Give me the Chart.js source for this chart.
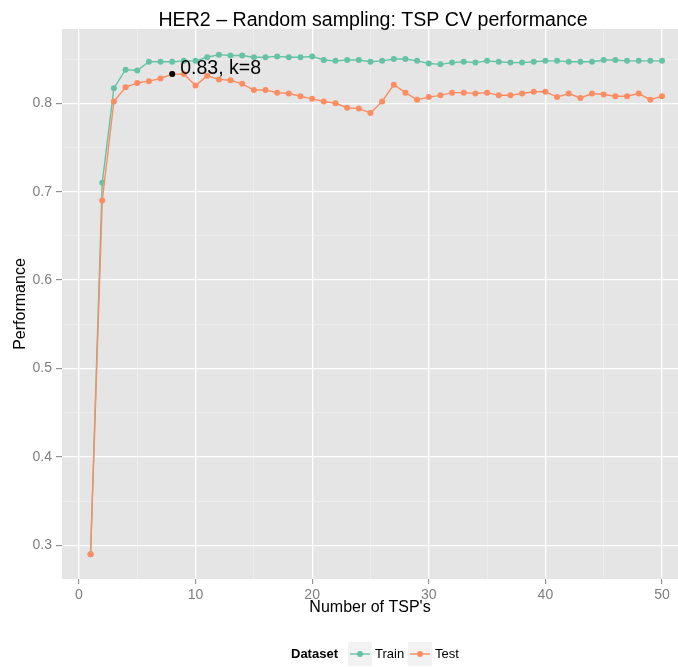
<!DOCTYPE html>
<html>
<head>
<meta charset="utf-8">
<script src="https://cdn.jsdelivr.net/npm/chart.js@4/dist/chart.umd.min.js"></script>
<style>
  body { margin: 0; background: #fff; overflow: hidden; }
</style>
</head>
<body>
<canvas id="myChart" width="678" height="667"></canvas>
<script>
// number of TSP's
var kValues = [1, 2, 3, 4, 5, 6, 7, 8, 9, 10,
    11, 12, 13, 14, 15, 16, 17, 18, 19, 20,
    21, 22, 23, 24, 25, 26, 27, 28, 29, 30,
    31, 32, 33, 34, 35, 36, 37, 38, 39, 40,
    41, 42, 43, 44, 45, 46, 47, 48, 49, 50];

var trainValues = [0.290, 0.710, 0.817, 0.838, 0.837, 0.847, 0.847, 0.847, 0.848, 0.848,
    0.852, 0.855, 0.854, 0.854, 0.852, 0.852, 0.853, 0.852, 0.852, 0.853,
    0.849, 0.848, 0.849, 0.849, 0.847, 0.848, 0.850, 0.850, 0.848, 0.845,
    0.844, 0.846, 0.847, 0.846, 0.848, 0.847, 0.846, 0.846, 0.847, 0.848,
    0.848, 0.847, 0.847, 0.847, 0.849, 0.849, 0.848, 0.848, 0.848, 0.848];

var testValues = [0.290, 0.690, 0.802, 0.818, 0.823, 0.825, 0.828, 0.833, 0.833, 0.820,
    0.831, 0.827, 0.826, 0.822, 0.815, 0.815, 0.812, 0.811, 0.808, 0.805,
    0.802, 0.800, 0.795, 0.794, 0.789, 0.802, 0.821, 0.812, 0.804, 0.807,
    0.809, 0.812, 0.812, 0.811, 0.812, 0.809, 0.809, 0.811, 0.813, 0.813,
    0.807, 0.811, 0.806, 0.811, 0.810, 0.808, 0.808, 0.811, 0.804, 0.808];

var xTicks = [0, 5, 10, 15, 20, 25, 30, 35, 40, 45, 50];
var xTickLabels = ['0', '', '10', '', '20', '', '30', '', '40', '', '50'];
var yTicks = [0.3, 0.35, 0.4, 0.45, 0.5, 0.55, 0.6, 0.65, 0.7, 0.75, 0.8, 0.85];
var yTickLabels = ['0.3', '', '0.4', '', '0.5', '', '0.6', '', '0.7', '', '0.8', ''];

var bestK = 8;
var bestLabel = '0.83, k=8';

var trainColor = '#66C2A5';
var testColor = '#FC8D62';
var fontFamily = '"Liberation Sans", Arial, sans-serif';

function toPoints(values) {
    return values.map((v, i) => ({x: kValues[i], y: v}));
}

function gridColor(labels) {
    return ctx => labels[ctx.index] === '' ? '#F2F2F2' : '#FFFFFF';
}
function gridWidth(labels) {
    return ctx => labels[ctx.index] === '' ? 0.6 : 1.3;
}
function tickMarkColor(labels) {
    return ctx => labels[ctx.index] === '' ? 'rgba(0,0,0,0)' : '#7F7F7F';
}

var ggPlugin = {
    id: 'ggStuff',
    beforeDraw(chart) {
        let ctx = chart.ctx;
        let a = chart.chartArea;
        ctx.save();
        ctx.fillStyle = '#E5E5E5';
        ctx.fillRect(a.left, a.top, a.right - a.left, a.bottom - a.top);
        ctx.restore();
    },
    afterDraw(chart) {
        let ctx = chart.ctx;
        let xs = chart.scales.x;
        let ys = chart.scales.y;
        ctx.save();

        // title
        ctx.fillStyle = '#000';
        ctx.font = '19.6px ' + fontFamily;
        ctx.textAlign = 'center';
        ctx.textBaseline = 'alphabetic';
        ctx.fillText('HER2 \u2013 Random sampling: TSP CV performance', 373, 26);

        // best k annotation
        let px = xs.getPixelForValue(bestK);
        let py = ys.getPixelForValue(testValues[bestK - 1]);
        ctx.beginPath();
        ctx.arc(px, py, 3, 0, Math.PI * 2);
        ctx.fill();
        ctx.font = '19.5px ' + fontFamily;
        ctx.textAlign = 'left';
        ctx.fillText(bestLabel, px + 8, py);

        // legend
        let ly = 654;
        ctx.textBaseline = 'middle';
        ctx.font = 'bold 13px ' + fontFamily;
        ctx.fillText('Dataset', 291, ly);
        let keys = [[348, trainColor, 'Train'], [408, testColor, 'Test']];
        keys.forEach(k => {
            ctx.fillStyle = '#F2F2F2';
            ctx.fillRect(k[0], ly - 12, 24, 24);
            ctx.strokeStyle = k[1];
            ctx.lineWidth = 1.4;
            ctx.beginPath();
            ctx.moveTo(k[0] + 2, ly);
            ctx.lineTo(k[0] + 22, ly);
            ctx.stroke();
            ctx.fillStyle = k[1];
            ctx.beginPath();
            ctx.arc(k[0] + 12, ly, 3, 0, Math.PI * 2);
            ctx.fill();
            ctx.fillStyle = '#000';
            ctx.font = '13px ' + fontFamily;
            ctx.fillText(k[2], k[0] + 27, ly);
        });
        ctx.restore();
    }
};

var chart = new Chart(document.getElementById('myChart').getContext('2d'), {
    type: 'line',
    data: {
        datasets: [{
            label: 'Train',
            data: toPoints(trainValues),
            borderColor: trainColor,
            backgroundColor: trainColor,
            pointBackgroundColor: trainColor,
            borderWidth: 1.4,
            pointRadius: 3,
            pointBorderWidth: 0,
            order: 1
        }, {
            label: 'Test',
            data: toPoints(testValues),
            borderColor: testColor,
            backgroundColor: testColor,
            pointBackgroundColor: testColor,
            borderWidth: 1.4,
            pointRadius: 3,
            pointBorderWidth: 0,
            order: 0
        }]
    },
    options: {
        responsive: false,
        animation: false,
        layout: {autoPadding: false, padding: {left: 0, right: 0, top: 29, bottom: 47}},
        plugins: {legend: {display: false}, tooltip: {enabled: false}, title: {display: false}},
        scales: {
            x: {
                type: 'linear',
                min: -1.45,
                max: 51.37,
                afterBuildTicks: s => { s.ticks = xTicks.map(v => ({value: v})); },
                afterFit: s => { s.height = 41; s.paddingLeft = 0; s.paddingRight = 0; },
                ticks: {
                    autoSkip: false,
                    maxRotation: 0,
                    padding: 3,
                    color: '#7F7F7F',
                    font: {family: fontFamily, size: 14},
                    callback: (v, i) => xTickLabels[i]
                },
                grid: {
                    color: gridColor(xTickLabels),
                    lineWidth: gridWidth(xTickLabels),
                    tickColor: tickMarkColor(xTickLabels),
                    tickLength: 5,
                    tickWidth: 1
                },
                border: {display: false},
                title: {
                    display: true,
                    text: "Number of TSP's",
                    color: '#000',
                    padding: {top: 0, bottom: 3},
                    font: {family: fontFamily, size: 16}
                }
            },
            y: {
                type: 'linear',
                min: 0.262,
                max: 0.884,
                afterBuildTicks: s => { s.ticks = yTicks.map(v => ({value: v})); },
                afterFit: s => { s.width = 62; s.paddingTop = 0; s.paddingBottom = 0; },
                ticks: {
                    autoSkip: false,
                    padding: 4,
                    color: '#7F7F7F',
                    font: {family: fontFamily, size: 14},
                    callback: (v, i) => yTickLabels[i]
                },
                grid: {
                    color: gridColor(yTickLabels),
                    lineWidth: gridWidth(yTickLabels),
                    tickColor: tickMarkColor(yTickLabels),
                    tickLength: 6,
                    tickWidth: 1
                },
                border: {display: false},
                title: {
                    display: true,
                    text: 'Performance',
                    color: '#000',
                    padding: {top: 11, bottom: 0},
                    font: {family: fontFamily, size: 16}
                }
            }
        }
    },
    plugins: [ggPlugin]
});
</script>
</body>
</html>
